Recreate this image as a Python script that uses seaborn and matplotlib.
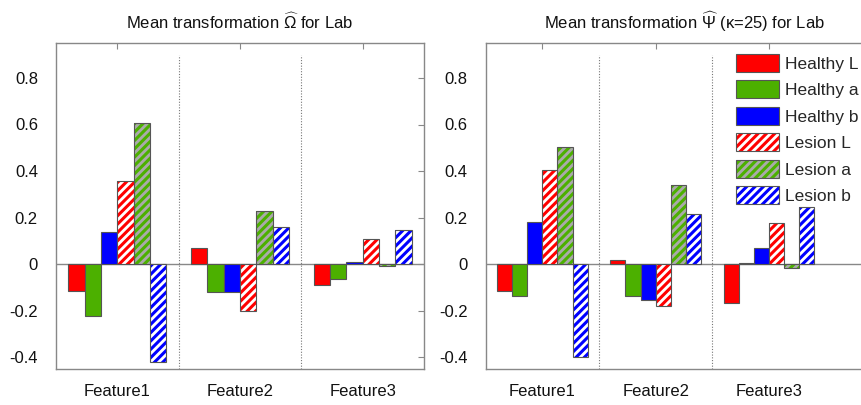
import matplotlib
matplotlib.use("Agg")
import matplotlib.pyplot as plt
import pandas as pd
import seaborn as sns
from matplotlib.patches import Patch, Rectangle

# ---------------- data ----------------
features = ["Feature1", "Feature2", "Feature3"]
groups = ["Healthy L", "Healthy a", "Healthy b", "Lesion L", "Lesion a", "Lesion b"]

# values per group (rows) for Feature1..3 (columns)
omega_values = [
    [-0.117, 0.068, -0.090],   # Healthy L
    [-0.224, -0.121, -0.063],  # Healthy a
    [0.140, -0.121, 0.010],    # Healthy b
    [0.359, -0.201, 0.110],    # Lesion L
    [0.606, 0.230, -0.007],    # Lesion a
    [-0.419, 0.161, 0.147],    # Lesion b
]
psi_values = [
    [-0.117, 0.020, -0.168],
    [-0.137, -0.135, 0.004],
    [0.180, -0.153, 0.071],
    [0.405, -0.178, 0.177],
    [0.502, 0.339, -0.017],
    [-0.399, 0.215, 0.244],
]

ytick_values = [-0.4, -0.2, 0, 0.2, 0.4, 0.6, 0.8]
ytick_labels = ["-0.4", "-0.2", "0", "0.2", "0.4", "0.6", "0.8"]

titles = [r"Mean transformation $\widehat{\Omega}$ for Lab",
          r"Mean transformation $\widehat{\Psi}$ (κ=25) for Lab"]

# ---------------- style ----------------
face_colors = ["#ff0000", "#4cb000", "#0000ff", "#ffffff", "#aaaaaa", "#ffffff"]
stripe_colors = [None, None, None, "#ff0000", "#4cb000", "#0000ff"]
edge_gray = "#555555"
axis_gray = "#888888"

sns.set_style("white")
plt.rcParams["font.family"] = ["Liberation Sans", "DejaVu Sans"]
plt.rcParams["mathtext.fontset"] = "custom"
plt.rcParams["mathtext.rm"] = "Liberation Sans"
plt.rcParams["mathtext.it"] = "Liberation Sans:italic"
plt.rcParams["mathtext.sf"] = "Liberation Sans"
plt.rcParams["hatch.linewidth"] = 2.2


def make_df(vals):
    rows = []
    for g, gv in zip(groups, vals):
        for f, v in zip(features, gv):
            rows.append({"feature": f, "group": g, "value": v})
    return pd.DataFrame(rows)


fig = plt.figure(figsize=(8.61, 4.05), dpi=100)
W, H = 861, 405
ax1 = fig.add_axes([56 / W, (H - 369) / H, 368 / W, 326 / H])
ax2 = fig.add_axes([485.7 / W, (H - 369) / H, 113.3 * 3.5 / W, 326 / H])

panels = [(ax1, omega_values, (-0.5, 2.5)), (ax2, psi_values, (-0.5, 3.0))]

for k, (ax, vals, xl) in enumerate(panels):
    df = make_df(vals)
    sns.barplot(data=df, x="feature", y="value", hue="group",
                order=features, hue_order=groups,
                palette=dict(zip(groups, face_colors)), saturation=1,
                errorbar=None, width=0.8, edgecolor=edge_gray, linewidth=0.8,
                legend=False, ax=ax, zorder=3)
    for i, cont in enumerate(ax.containers):
        sc = stripe_colors[i]
        if sc is None:
            continue
        for bar in cont:
            bar.set_hatch("////")
            bar.set_edgecolor(sc)
            bar.set_linewidth(0)
            ax.add_patch(Rectangle(bar.get_xy(), bar.get_width(), bar.get_height(),
                                   fill=False, ec=edge_gray, lw=0.8, zorder=3.5))
    ax.axhline(0, color=axis_gray, lw=1.0, zorder=2)
    for j in range(len(features) - 1):
        ax.vlines(j + 0.5, -0.45, 0.90, colors="#777777", linestyles=(0, (1, 1.5)),
                  lw=0.8, zorder=1)
    ax.set_xlim(*xl)
    ax.set_ylim(-0.45, 0.95)
    ax.set_yticks(ytick_values, ytick_labels)
    ax.set_xlabel("")
    ax.set_ylabel("")
    ax.tick_params(axis="both", direction="in", top=True, right=True, length=4,
                   width=0.8, color=axis_gray, labelsize=12, labelcolor="#111111")
    ax.tick_params(axis="y", pad=13)
    ax.tick_params(axis="x", pad=11)
    for s in ax.spines.values():
        s.set_color(axis_gray)
        s.set_linewidth(1.0)
    ax.set_title(titles[k], fontsize=12, pad=10, color="#111111")

# legend on right panel
handles = []
for fc, sc in zip(face_colors, stripe_colors):
    if sc is None:
        handles.append(Patch(facecolor=fc, edgecolor=edge_gray, lw=0.8))
    else:
        handles.append((Patch(facecolor=fc, edgecolor=sc, hatch="////", lw=0),
                        Patch(fill=False, edgecolor=edge_gray, lw=0.8)))
fig.legend(handles, groups, loc="upper left", bbox_to_anchor=(736 / W, 1 - 54 / H),
           frameon=False, fontsize=12.5, handlelength=2.5, handleheight=1.2,
           handletextpad=0.3, labelspacing=0.5, borderpad=0, borderaxespad=0)

fig.savefig("out.png", dpi=100)
